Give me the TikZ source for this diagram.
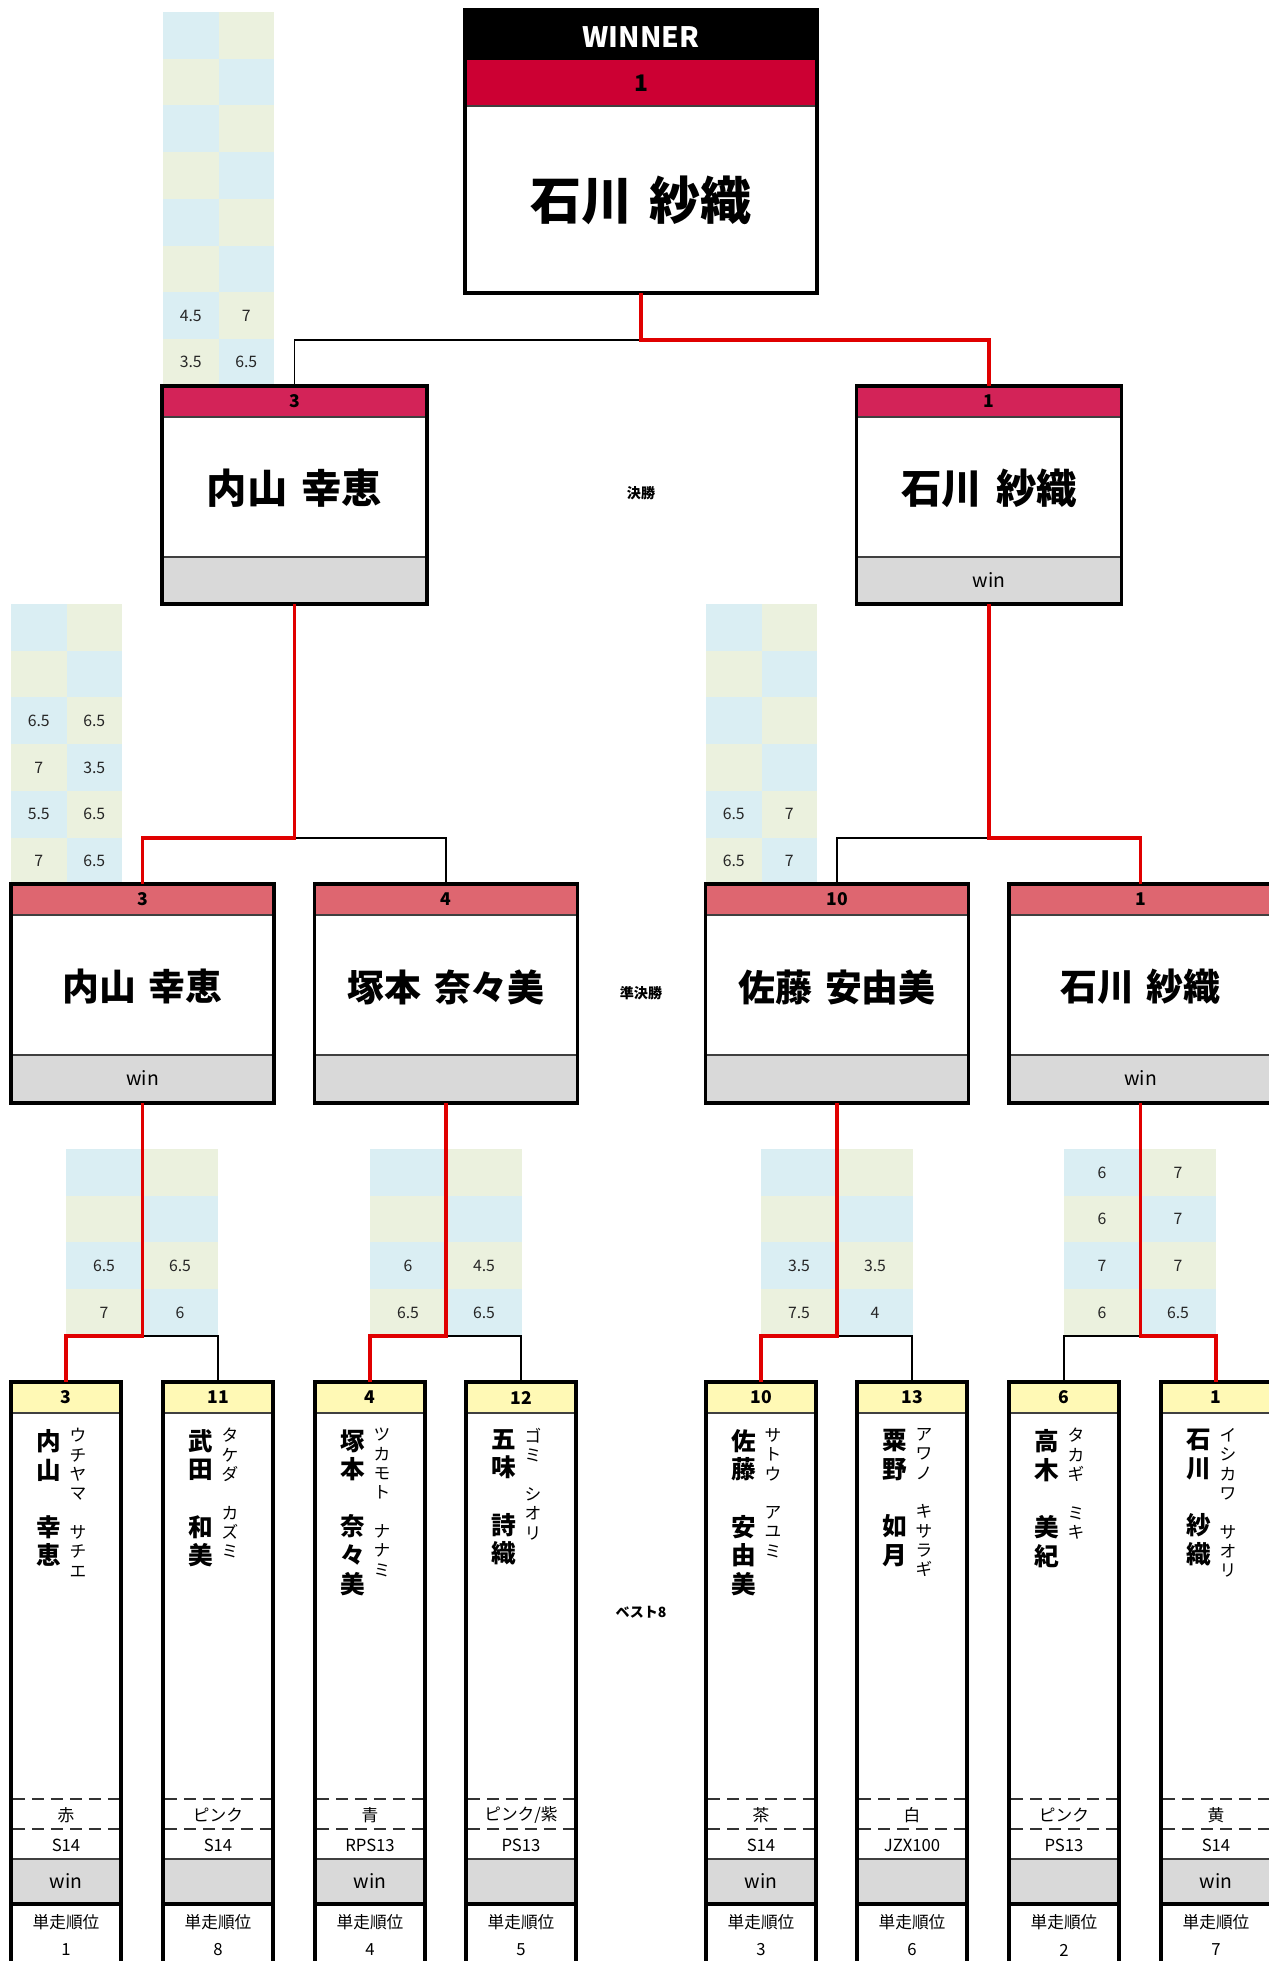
\documentclass[tikz,border=0pt]{standalone}
\usepackage{fontspec}
\setmainfont{Noto Sans CJK JP}
\usetikzlibrary{calc}

\definecolor{champred}{RGB}{204,0,51}
\definecolor{finalred}{RGB}{211,35,88}
\definecolor{semired}{RGB}{222,102,112}
\definecolor{seedyellow}{RGB}{255,249,181}
\definecolor{cellblue}{RGB}{218,238,243}
\definecolor{cellgreen}{RGB}{235,241,222}
\definecolor{footgray}{RGB}{217,217,217}
\definecolor{routered}{RGB}{224,0,0}

\newcommand{\gap}{\hspace{.35em}}

\tikzset{
  cardframe/.style={draw,line width=2pt,inner sep=0pt,outer sep=0pt},
  divider/.style={draw=black!75,line width=0.8pt},
  dashline/.style={draw=black!80,line width=0.8pt,dash pattern=on 0.24cm off 0.14cm},
  winline/.style={draw=routered,line width=2.2pt},
  loseline/.style={draw=black,line width=0.7pt},
  seednum/.style={font=\bfseries\fontsize{10}{12}\selectfont,inner sep=0pt},
  scorecell/.style={font=\fontsize{9}{11}\selectfont,inner sep=0pt,text=black!85},
  smalltxt/.style={font=\fontsize{9.5}{11}\selectfont,inner sep=0pt},
  wintxt/.style={font=\fontsize{11}{13}\selectfont,inner sep=0pt},
  stagelabel/.style={font=\bfseries\fontsize{8}{10}\selectfont,inner sep=0pt},
  kanjicol/.style={align=center,font=\bfseries\fontsize{14}{16.3}\selectfont,inner sep=0pt},
  kanacol/.style={align=center,font=\fontsize{9.5}{11}\selectfont,inner sep=0pt},
}

% #1 prefix, #2 left x, #3 top y, #4 cell width, #5 rows
\newcommand{\scoregrid}[5]{%
  \foreach \a/\b [count=\r from 0] in {#5}{%
    \pgfmathsetmacro\yt{#3+\r*46.7}
    \ifodd\r \def\ca{cellgreen}\def\cb{cellblue}\else \def\ca{cellblue}\def\cb{cellgreen}\fi
    \fill[\ca] (#2,\yt) rectangle ++(#4,46.7);
    \fill[\cb] (#2+#4,\yt) rectangle ++(#4,46.7);
    \node[scorecell] (#1-\r-a) at (#2+#4/2,\yt+23.35) {\a};
    \node[scorecell] (#1-\r-b) at (#2+#4*1.5,\yt+23.35) {\b};
  }%
}

% #1 name, #2 centre x, #3 seed, #4 player, #5 result
\newcommand{\finalcard}[5]{%
  \fill[finalred] (#2-132.5,386) rectangle (#2+132.5,417);
  \fill[footgray] (#2-132.5,557) rectangle (#2+132.5,604);
  \draw[divider] (#2-132.5,417) -- (#2+132.5,417) (#2-132.5,557) -- (#2+132.5,557);
  \node[cardframe,minimum width=5.3cm,minimum height=4.36cm] (#1) at (#2,495) {};
  \node[seednum] (#1-seed) at (#2,401.5) {#3};
  \node[font=\bfseries\fontsize{23}{28}\selectfont,inner sep=0pt] (#1-name) at (#2,488) {#4};
  \node[wintxt] (#1-res) at (#2,580) {#5};
}

% #1 name, #2 centre x, #3 seed, #4 player, #5 result
\newcommand{\semicard}[5]{%
  \fill[semired] (#2-131.5,884) rectangle (#2+131.5,915);
  \fill[footgray] (#2-131.5,1055) rectangle (#2+131.5,1103);
  \draw[divider] (#2-131.5,915) -- (#2+131.5,915) (#2-131.5,1055) -- (#2+131.5,1055);
  \node[cardframe,minimum width=5.26cm,minimum height=4.38cm] (#1) at (#2,993.5) {};
  \node[seednum] (#1-seed) at (#2,899.5) {#3};
  \node[font=\bfseries\fontsize{21}{26}\selectfont,inner sep=0pt] (#1-name) at (#2,987) {#4};
  \node[wintxt] (#1-res) at (#2,1078) {#5};
}

% #1 name, #2 centre x, #3 seed, #4 kanji, #5 kana, #6 colour, #7 car, #8 result, #9 rank
\newcommand{\racer}[9]{%
  \fill[seedyellow] (#2-55,1382) rectangle (#2+55,1413);
  \fill[footgray] (#2-55,1859) rectangle (#2+55,1904);
  \draw[divider] (#2-55,1413) -- (#2+55,1413) (#2-55,1859) -- (#2+55,1859);
  \draw[dashline] (#2-53,1799) -- (#2+53,1799) (#2-53,1829) -- (#2+53,1829);
  \draw[line width=2pt] (#2-55,1904) -- (#2+55,1904);
  \node[cardframe,minimum width=2.2cm,minimum height=12.4cm] (#1) at (#2,1692) {};
  \node[seednum] (#1-seed) at (#2,1397.5) {#3};
  \node[kanjicol,anchor=north] (#1-kanji) at (#2-17,1429) {#4};
  \node[kanacol,anchor=north] (#1-kana) at (#2+12,1428) {#5};
  \node[smalltxt] (#1-colour) at (#2,1815) {#6};
  \node[smalltxt] (#1-car) at (#2,1845) {#7};
  \node[wintxt] (#1-res) at (#2,1881) {#8};
  \node[smalltxt] (#1-lbl) at (#2,1922) {単走順位};
  \node[smalltxt] (#1-rank) at (#2,1950) {#9};
}

\begin{document}
\begin{tikzpicture}[x=0.02cm,y=-0.02cm]
\useasboundingbox (0,0) rectangle (1268,1961);

\scoregrid{g0}{163}{12}{55.5}{{}/{},{}/{},{}/{},{}/{},{}/{},{}/{},4.5/7,3.5/6.5}
\scoregrid{g1}{11}{604}{55.5}{{}/{},{}/{},6.5/6.5,7/3.5,5.5/6.5,7/6.5}
\scoregrid{g2}{706}{604}{55.5}{{}/{},{}/{},{}/{},{}/{},6.5/7,6.5/7}
\scoregrid{g3}{66}{1149}{76}{{}/{},{}/{},6.5/6.5,7/6}
\scoregrid{g4}{370}{1149}{76}{{}/{},{}/{},6/4.5,6.5/6.5}
\scoregrid{g5}{761}{1149}{76}{{}/{},{}/{},3.5/3.5,7.5/4}
\scoregrid{g6}{1064}{1149}{76}{6/7,6/7,7/7,6/6.5}

\fill[black] (465,10) rectangle (817,60);
\fill[champred] (465,60) rectangle (817,106);
\draw[divider] (465,106) -- (817,106);
\node[cardframe,minimum width=7.04cm,minimum height=5.66cm] (champ) at (641,151.5) {};
\node[font=\bfseries\fontsize{16}{19}\selectfont,text=white,inner sep=0pt] (champ-title) at (641,37) {WINNER};
\node[font=\bfseries\fontsize{13}{15}\selectfont,inner sep=0pt] (champ-seed) at (641,83) {1};
\node[font=\bfseries\fontsize{29}{34}\selectfont,inner sep=0pt] (champ-name) at (641,200) {石川\gap 紗織};

\finalcard{sfL}{294.5}{3}{内山\gap 幸恵}{}
\finalcard{sfR}{989}{1}{石川\gap 紗織}{win}

\semicard{qf1}{142.5}{3}{内山\gap 幸恵}{win}
\semicard{qf2}{446}{4}{塚本\gap 奈々美}{}
\semicard{qf3}{837}{10}{佐藤\gap 安由美}{}
\semicard{qf4}{1140.5}{1}{石川\gap 紗織}{win}

\racer{r1}{66}{3}{内\\山\\　\\幸\\恵}{ウ\\チ\\ヤ\\マ\\　\\サ\\チ\\エ}{赤}{S14}{win}{1}
\racer{r2}{218}{11}{武\\田\\　\\和\\美}{タ\\ケ\\ダ\\　\\カ\\ズ\\ミ}{ピンク}{S14}{}{8}
\racer{r3}{370}{4}{塚\\本\\　\\奈\\々\\美}{ツ\\カ\\モ\\ト\\　\\ナ\\ナ\\ミ}{青}{RPS13}{win}{4}
\racer{r4}{521}{12}{五\\味\\　\\詩\\織}{ゴ\\ミ\\　\\シ\\オ\\リ}{ピンク/紫}{PS13}{}{5}
\racer{r5}{761}{10}{佐\\藤\\　\\安\\由\\美}{サ\\ト\\ウ\\　\\ア\\ユ\\ミ}{茶}{S14}{win}{3}
\racer{r6}{912}{13}{粟\\野\\　\\如\\月}{ア\\ワ\\ノ\\　\\キ\\サ\\ラ\\ギ}{白}{JZX100}{}{6}
\racer{r7}{1064}{6}{高\\木\\　\\美\\紀}{タ\\カ\\ギ\\　\\ミ\\キ}{ピンク}{PS13}{}{2}
\racer{r8}{1216}{1}{石\\川\\　\\紗\\織}{イ\\シ\\カ\\ワ\\　\\サ\\オ\\リ}{黄}{S14}{win}{7}

\node[stagelabel] (lbl-final) at (641,493) {決勝};
\node[stagelabel] (lbl-semi) at (641,993) {準決勝};
\node[stagelabel] (lbl-best) at (641,1612) {ベスト8};

\coordinate (lvl0) at (0,340);
\coordinate (lvl1) at (0,838);
\coordinate (lvl2) at (0,1336);

\coordinate (champ-j) at (champ.south |- lvl0);
\draw[loseline] (champ-j) -| (sfL.north);
\draw[winline] (champ.south) -- (champ-j) -| (sfR.north);

\coordinate (sfL-j) at (sfL.south |- lvl1);
\draw[loseline] (sfL-j) -| (qf2.north);
\draw[winline] (sfL.south) -- (sfL-j) -| (qf1.north);
\coordinate (sfR-j) at (sfR.south |- lvl1);
\draw[loseline] (sfR-j) -| (qf3.north);
\draw[winline] (sfR.south) -- (sfR-j) -| (qf4.north);

\foreach \q/\w/\l in {qf1/r1/r2,qf2/r3/r4,qf3/r5/r6,qf4/r8/r7}{
  \coordinate (\q-j) at (\q.south |- lvl2);
  \draw[loseline] (\q-j) -| (\l.north);
  \draw[winline] (\q.south) -- (\q-j) -| (\w.north);
}
\end{tikzpicture}
\end{document}
